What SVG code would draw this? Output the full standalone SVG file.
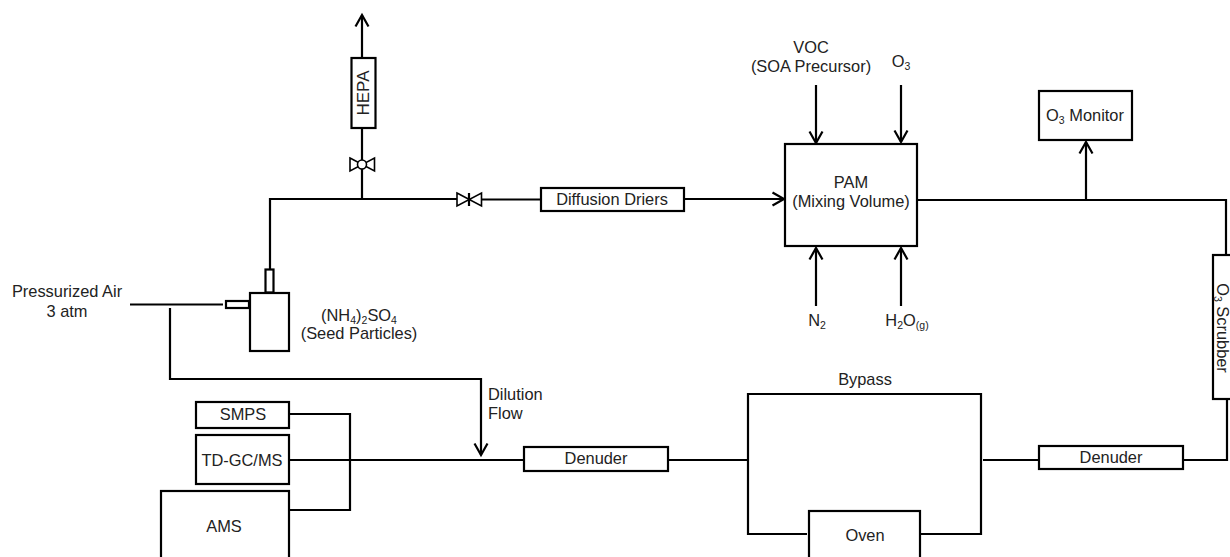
<svg xmlns="http://www.w3.org/2000/svg" width="1230" height="557" viewBox="0 0 1230 557">
<style>
text{font-family:"Liberation Sans",Arial,sans-serif;font-size:16.4px;fill:#222;text-anchor:middle}
.s{font-size:10.500px}
.box{fill:#fff;stroke:#000;stroke-width:2.200}
.ln{fill:none;stroke:#000;stroke-width:2.200}
.v{fill:#fff;stroke:#000;stroke-width:1.600}
</style>
<defs>
<marker id="a" markerUnits="userSpaceOnUse" markerWidth="16" markerHeight="16" refX="13" refY="8" orient="auto"><path d="M1.500 1.500L13 8L1.500 14.500" fill="none" stroke="#000" stroke-width="2.200"/></marker>
</defs>
<rect width="1230" height="557" fill="#fff"/>
<g id="connectors" class="ln">
<path d="M362 199V15" marker-end="url(#a)"/>
<path d="M270 269V199H457"/>
<path d="M482 199.500H541"/>
<path d="M684 199H784" marker-end="url(#a)"/>
<path d="M816 85V143" marker-end="url(#a)"/>
<path d="M901 85V142" marker-end="url(#a)"/>
<path d="M816 306V248" marker-end="url(#a)"/>
<path d="M901 306V248" marker-end="url(#a)"/>
<path d="M917 200H1226V255"/>
<path d="M1086 200V142" marker-end="url(#a)"/>
<path d="M1227 399V460H1183"/>
<path d="M1039 460H983"/>
<path d="M748 460H668"/>
<path d="M748 460V394H981V534H921"/>
<path d="M748 460V534H807"/>
<path d="M524 460H289"/>
<path d="M289 414H350V510H289"/>
<path d="M130 304.500H223"/>
<path d="M170 308V379H481V455" marker-end="url(#a)"/>
</g>
<g id="hepa"><rect class="box" x="351.500" y="58" width="24" height="70"/><text transform="translate(369 93) rotate(-90)" style="font-size:17px">HEPA</text></g>
<g id="valve-hepa"><path class="v" d="M350 158L374.500 171V158L350 171Z"/><circle class="v" cx="362" cy="164.500" r="4.500"/></g>
<g id="valve-main"><path class="v" d="M457 193L481.500 206V193L457 206Z"/><path class="ln" d="M469 193V206"/></g>
<g id="diffusion-driers"><rect class="box" x="541" y="188" width="143" height="23"/><text x="612" y="205">Diffusion Driers</text></g>
<g id="pam"><rect class="box" x="785" y="144" width="132" height="102"/><text x="851" y="188">PAM</text><text x="851" y="207">(Mixing Volume)</text></g>
<g id="voc"><text x="811" y="53">VOC</text><text x="811" y="72">(SOA Precursor)</text></g>
<g id="o3-label"><text x="901" y="67">O<tspan class="s" dy="3">3</tspan></text></g>
<g id="n2-label"><text x="817" y="326">N<tspan class="s" dy="3">2</tspan></text></g>
<g id="h2o-label"><text x="907" y="326">H<tspan class="s" dy="3">2</tspan><tspan dy="-3">O</tspan><tspan class="s" dy="3">(g)</tspan></text></g>
<g id="o3-monitor"><rect class="box" x="1039" y="91" width="93" height="49"/><text x="1085" y="121">O<tspan class="s" dy="3">3</tspan><tspan dy="-3"> Monitor</tspan></text></g>
<g id="o3-scrubber"><rect class="box" x="1213" y="255" width="30" height="144"/><text transform="translate(1217 328) rotate(90)">O<tspan class="s" dy="3">3</tspan><tspan dy="-3"> Scrubber</tspan></text></g>
<g id="denuder-right"><rect class="box" x="1039" y="446" width="144" height="23"/><text x="1111" y="463">Denuder</text></g>
<g id="bypass-label"><text x="865" y="385">Bypass</text></g>
<g id="oven"><rect class="box" x="809" y="511" width="111" height="60"/><text x="865" y="541">Oven</text></g>
<g id="denuder-left"><rect class="box" x="524" y="447" width="144" height="24"/><text x="596" y="464">Denuder</text></g>
<g id="dilution-label"><text x="488" y="400" style="text-anchor:start">Dilution</text><text x="488" y="419" style="text-anchor:start">Flow</text></g>
<g id="smps"><rect class="box" x="196" y="402" width="93" height="26"/><text x="243" y="420">SMPS</text></g>
<g id="td-gc-ms"><rect class="box" x="196" y="435" width="93" height="49"/><text x="242" y="466">TD-GC/MS</text></g>
<g id="ams"><rect class="box" x="161" y="491" width="128" height="80"/><text x="224" y="532">AMS</text></g>
<g id="pressurized-air"><text x="67" y="297">Pressurized Air</text><text x="67" y="317">3 atm</text></g>
<g id="seed-bottle"><rect class="box" x="265.500" y="269.500" width="8" height="23"/><rect class="box" x="226" y="301" width="23" height="7"/><rect class="box" x="250" y="293" width="39" height="58"/></g>
<g id="seed-label"><text x="359" y="321">(NH<tspan class="s" dy="3">4</tspan><tspan dy="-3">)</tspan><tspan class="s" dy="3">2</tspan><tspan dy="-3">SO</tspan><tspan class="s" dy="3">4</tspan></text><text x="359" y="339">(Seed Particles)</text></g>
</svg>
